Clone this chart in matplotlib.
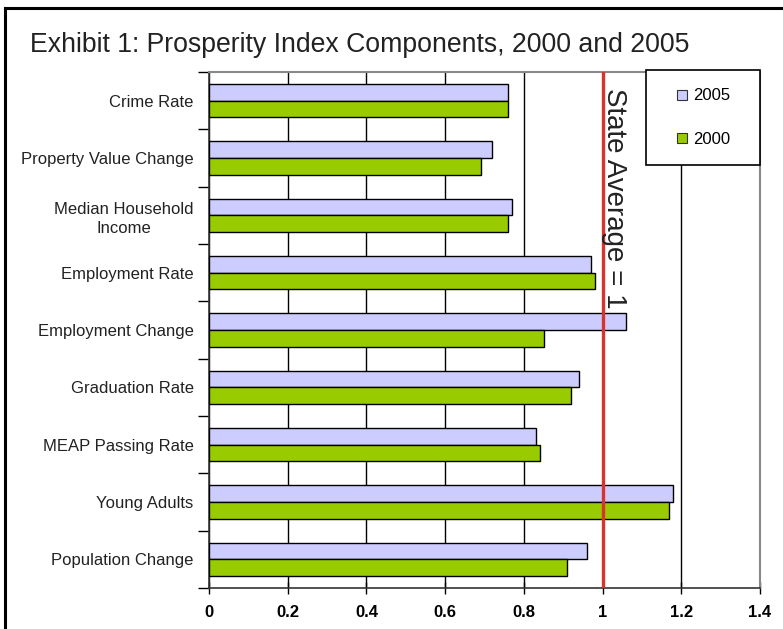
import numpy as np
import matplotlib
matplotlib.use("Agg")
import matplotlib.pyplot as plt
from matplotlib.lines import Line2D

plt.rcParams['font.family'] = ['Liberation Sans', 'DejaVu Sans']

# data
components = ["Crime Rate", "Property Value Change", "Median Household\nIncome",
              "Employment Rate", "Employment Change", "Graduation Rate",
              "MEAP Passing Rate", "Young Adults", "Population Change"]
values_2005 = [0.76, 0.72, 0.77, 0.97, 1.06, 0.94, 0.83, 1.18, 0.96]
values_2000 = [0.76, 0.69, 0.76, 0.98, 0.85, 0.92, 0.84, 1.17, 0.91]
x_ticks = [0, 0.2, 0.4, 0.6, 0.8, 1, 1.2, 1.4]
x_tick_labels = ["0", "0.2", "0.4", "0.6", "0.8", "1", "1.2", "1.4"]
state_avg = 1

col_2005 = "#CCCCFF"
col_2000 = "#99CC00"

fig = plt.figure(figsize=(7.83, 6.29), dpi=100)
ax = fig.add_axes([209/783, 1 - 588/629, 551/783, 516/629])

y = np.arange(len(components))
h = 0.29
ax.barh(y - h/2, values_2005, height=h, color=col_2005, edgecolor="black", linewidth=1, zorder=3)
ax.barh(y + h/2, values_2000, height=h, color=col_2000, edgecolor="black", linewidth=1, zorder=3)

# state average line
ax.axvline(state_avg, color="#D9322F", linewidth=2.4, zorder=4)
ax.text(state_avg + 0.03, 1.71, "State Average = 1", rotation=-90, fontsize=20,
        color="#222222", ha="center", va="center", zorder=5)

ax.set_xlim(0, 1.4)
ax.set_ylim(len(components) - 0.5, -0.5)

ax.set_xticks(x_ticks)
ax.set_xticklabels(x_tick_labels, fontsize=12, fontweight="bold")
ax.tick_params(axis="x", direction="inout", length=8, width=1, pad=8)

ax.set_yticks(y)
ax.set_yticklabels(components, fontsize=12, color="#222222", multialignment="center",
                   linespacing=1.35)
ax.set_yticks(np.arange(len(components) + 1) - 0.5, minor=True)
ax.tick_params(axis="y", which="major", length=0, pad=11)
ax.tick_params(axis="y", which="minor", length=8, width=1, direction="out")

ax.grid(axis="x", color="black", linewidth=1, zorder=1)
ax.set_axisbelow(True)
for s in ["top", "right"]:
    ax.spines[s].set_color("#888888")
    ax.spines[s].set_linewidth(1.5)
for s in ["left", "bottom"]:
    ax.spines[s].set_color("#333333")
    ax.spines[s].set_linewidth(1.2)

handles = [Line2D([], [], marker="s", linestyle="none", markersize=7.5,
                  markerfacecolor=col_2005, markeredgecolor="#333333", markeredgewidth=0.8),
           Line2D([], [], marker="s", linestyle="none", markersize=7.5,
                  markerfacecolor=col_2000, markeredgecolor="#333333", markeredgewidth=0.8)]
leg = ax.legend(handles, ["2005", "2000"], loc="upper left",
                bbox_to_anchor=(437/551, 0.5, 114/551, 0.5 + 2/516), mode="expand",
                fontsize=12, frameon=True, fancybox=False, edgecolor="black",
                framealpha=1, borderpad=1.1, handlelength=2.1, handletextpad=-0.4,
                labelspacing=1.72, borderaxespad=0)
leg.get_frame().set_linewidth(1.2)
leg.set_zorder(6)

fig.text(30/783, 1 - 45/629, "Exhibit 1: Prosperity Index Components, 2000 and 2005",
         fontsize=19.2, color="#222222", ha="left", va="center")

# outer border (left and top edges visible)
fig.add_artist(Line2D([4.5/783, 4.5/783], [0, 1 - 7.5/629], color="black", linewidth=2.2,
                      transform=fig.transFigure))
fig.add_artist(Line2D([4.5/783, 1], [1 - 7.5/629, 1 - 7.5/629], color="black", linewidth=2.2,
                      transform=fig.transFigure))

fig.savefig("out.png", dpi=100, facecolor="white")
